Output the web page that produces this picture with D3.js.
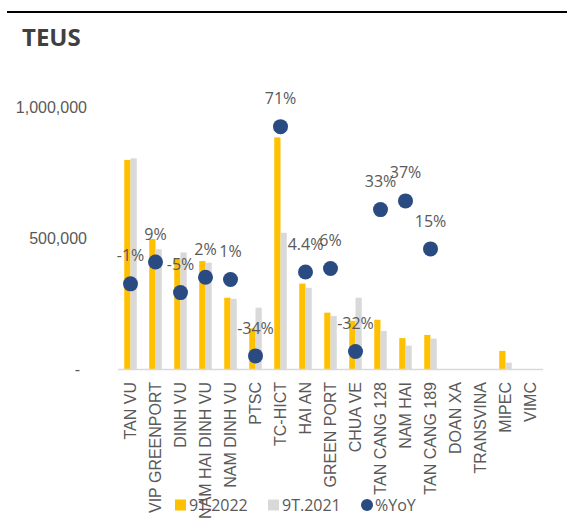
<!DOCTYPE html>
<html>
<head>
<meta charset="utf-8">
<script src="https://cdn.jsdelivr.net/npm/d3@7"></script>
<style>
    body { margin: 0; background: #fff; }
    svg { font-family: 'Open Sans', sans-serif; }
    .tick-label { fill: #595959; font-size: 16px; }
</style>
</head>
<body>
<svg id="chart" width="567" height="522"></svg>
<script>
const ports = ['TAN VU', 'VIP GREENPORT', 'DINH VU', 'NAM HAI DINH VU', 'NAM DINH VU', 'PTSC', 'TC-HICT',
    'HAI AN', 'GREEN PORT', 'CHUA VE', 'TAN CANG 128', 'NAM HAI', 'TAN CANG 189', 'DOAN XA', 'TRANSVINA',
    'MIPEC', 'VIMC'];
const teus2022 = [798000, 496000, 422000, 412000, 272000, 155000, 884000, 326000, 215000, 184000, 188000,
    118000, 130000, 0, 0, 69000, 0];
const teus2021 = [804000, 457000, 445000, 406000, 268000, 234000, 520000, 310000, 202000, 272000, 145000,
    89000, 116000, 0, 0, 24000, 0];
const yoy = [-1, 9, -5, 2, 1, -34, 71, 4.4, 6, -32, 33, 37, 15, null, null, null, null];
const yTicks = [0, 500000, 1000000];
const seriesNames = ['9T.2022', '9T.2021', '%YoY'];

const COLOR_2022 = '#FFC000';
const COLOR_2021 = '#D9D9D9';
const COLOR_YOY = '#2A4A82';

const svg = d3.select('#chart');

// frame line + title
svg.append('line')
    .attr('x1', 7).attr('x2', 567)
    .attr('y1', 12).attr('y2', 12)
    .attr('stroke', '#000').attr('stroke-width', 2);

svg.append('text')
    .attr('x', 22).attr('y', 46)
    .attr('fill', '#404040')
    .style('font-size', '24px')
    .style('font-weight', 'bold')
    .text('TEUS');

const plot = { left: 118, right: 543, top: 107, bottom: 369 };

const x = d3.scaleBand()
    .domain(ports)
    .range([plot.left, plot.right])
    .paddingInner(0.5)
    .paddingOuter(0.25);

const xSub = d3.scaleBand()
    .domain(['y2022', 'y2021'])
    .range([0, x.bandwidth()]);

const y = d3.scaleLinear()
    .domain([0, 1000000])
    .range([plot.bottom, plot.top]);

const y2 = d3.scaleLinear()
    .domain([-40, 80])
    .range([plot.bottom, plot.top]);

const rows = ports.map((p, i) => ({ port: p, y2022: teus2022[i], y2021: teus2021[i], yoy: yoy[i] }));

// y axis labels only (no line, no ticks)
const yAxis = svg.append('g')
    .attr('transform', `translate(87,0)`)
    .call(d3.axisLeft(y).tickValues(yTicks).tickSize(0).tickPadding(0)
        .tickFormat(d => d === 0 ? '-' : d3.format(',')(d)));
yAxis.select('.domain').remove();
yAxis.selectAll('text')
    .attr('class', 'tick-label')
    .attr('font-family', null)
    .attr('font-size', null)
    .attr('dx', d => d === 0 ? -7 : 0);

// bars
const groups = svg.append('g')
    .selectAll('g')
    .data(rows)
    .join('g')
    .attr('transform', d => `translate(${x(d.port)},0)`);

groups.selectAll('rect')
    .data(d => [
        { key: 'y2022', value: d.y2022, fill: COLOR_2022 },
        { key: 'y2021', value: d.y2021, fill: COLOR_2021 }
    ])
    .join('rect')
    .attr('x', d => xSub(d.key))
    .attr('width', xSub.bandwidth())
    .attr('y', d => y(d.value))
    .attr('height', d => y(0) - y(d.value))
    .attr('fill', d => d.fill);

// x axis
const xAxis = svg.append('g')
    .attr('transform', `translate(0,${plot.bottom})`)
    .call(d3.axisBottom(x).tickSize(0).tickPadding(0));
xAxis.select('.domain')
    .attr('d', `M${plot.left},0.5H${plot.right}`)
    .attr('stroke', '#D9D9D9')
    .attr('stroke-width', 1.5);
xAxis.selectAll('text')
    .attr('class', 'tick-label')
    .attr('font-family', null)
    .attr('font-size', null)
    .attr('transform', 'rotate(-90)')
    .attr('text-anchor', 'end')
    .attr('x', -13)
    .attr('y', 0)
    .attr('dy', '0.35em');

// %YoY dots + labels
const yoyRows = rows.filter(d => d.yoy !== null);

svg.append('g')
    .selectAll('circle')
    .data(yoyRows)
    .join('circle')
    .attr('cx', d => x(d.port) + x.bandwidth() / 2)
    .attr('cy', d => y2(d.yoy))
    .attr('r', 7.5)
    .attr('fill', COLOR_YOY);

svg.append('g')
    .selectAll('text')
    .data(yoyRows)
    .join('text')
    .attr('class', 'tick-label')
    .attr('x', d => x(d.port) + x.bandwidth() / 2)
    .attr('y', d => y2(d.yoy) - 28)
    .attr('dy', '0.35em')
    .attr('text-anchor', 'middle')
    .text(d => (d.yoy % 1 ? d.yoy.toFixed(1) : d.yoy) + '%');

// legend
const legend = svg.append('g').attr('transform', 'translate(0,505)');
const legendItems = [
    { name: seriesNames[0], color: COLOR_2022, shape: 'rect', x: 175 },
    { name: seriesNames[1], color: COLOR_2021, shape: 'rect', x: 268 },
    { name: seriesNames[2], color: COLOR_YOY, shape: 'circle', x: 361 }
];
legendItems.forEach(item => {
    if (item.shape === 'rect') {
        legend.append('rect')
            .attr('x', item.x).attr('y', -5.5)
            .attr('width', 11).attr('height', 11)
            .attr('fill', item.color);
    } else {
        legend.append('circle')
            .attr('cx', item.x + 6).attr('cy', 0)
            .attr('r', 6)
            .attr('fill', item.color);
    }
    legend.append('text')
        .attr('class', 'tick-label')
        .attr('x', item.x + 14)
        .attr('dy', '0.35em')
        .text(item.name);
});
</script>
</body>
</html>
